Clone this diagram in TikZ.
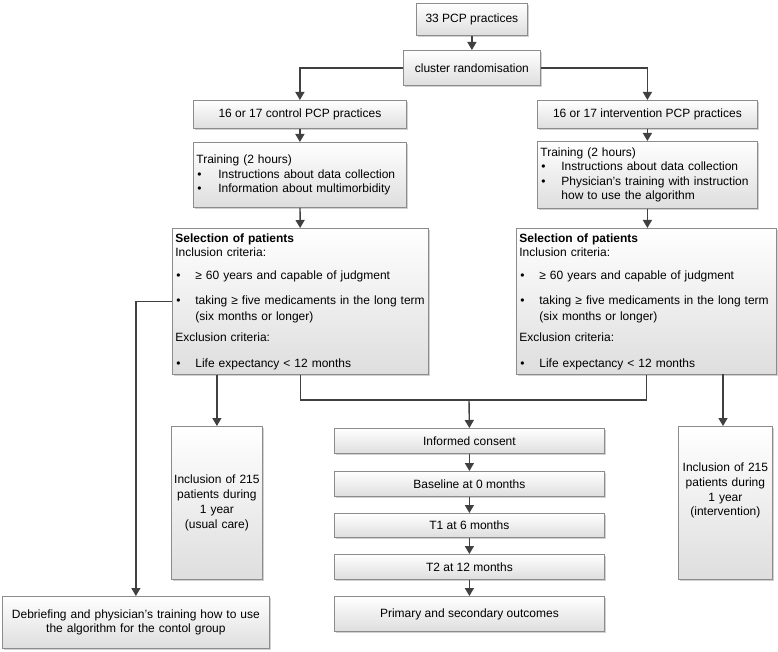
\documentclass[tikz,border=0pt]{standalone}
\usepackage{fontspec}
\setmainfont{Liberation Sans}
\usetikzlibrary{arrows.meta,shadows}
\definecolor{edgegray}{RGB}{140,140,140}
\definecolor{conngray}{RGB}{64,64,64}
\newcommand{\bul}[1]{\makebox[#1][l]{\hspace{1pt}\textbullet}}
\hyphenpenalty=10000
\begin{document}
\begin{tikzpicture}[x=1pt, y=-1pt,
  font=\fontsize{12}{14.5}\selectfont,
  box/.style={draw=edgegray, line width=0.8pt, top color=white, bottom color=black!13,
    drop shadow={shadow xshift=1.2pt, shadow yshift=-1.2pt, fill=black, opacity=0.18},
    inner sep=0pt, inner xsep=3pt, anchor=north west},
  ln/.style={draw=conngray, line width=1.4pt},
  arr/.style={ln, -{Triangle[width=9pt,length=8pt]}}]
\fill[white] (0,0) rectangle (778,652);
\useasboundingbox (0,0) rectangle (778,652);

\node[box, minimum width=111, minimum height=32] (pcp) at (416,3) {33 PCP practices};
\node[box, minimum width=137, minimum height=35] (cluster) at (403,50) {cluster randomisation};
\node[box, minimum width=213, minimum height=28] (ctrl) at (193,100) {16 or 17 control PCP practices};
\node[box, minimum width=220, minimum height=28] (intv) at (537,100) {16 or 17 intervention PCP practices};

\node[box, minimum width=213, minimum height=65, text width=207, align=left] (trainL) at (193,142)
 {Training (2 hours)\\
  \bul{22pt}Instructions about data collection\\
  \bul{22pt}Information about multimorbidity};
\node[box, minimum width=220, minimum height=67, text width=214, align=left] (trainR) at (537,141)
 {Training (2 hours)\\
  \bul{21pt}Instructions about data collection\\
  \bul{21pt}Physician’s training with instruction\\
  \hspace*{21pt}how to use the algorithm};

\node[box, minimum width=256, minimum height=146, text width=250, align=left] (selL) at (172,228)
 {\textbf{Selection of patients}\\
  Inclusion criteria:\\[8pt]
  \bul{20pt}≥ 60 years and capable of judgment\\[11pt]
  \bul{20pt}taking ≥ five medicaments in the long term\\[1pt]
  \hspace*{20pt}(six months or longer)\\[7pt]
  Exclusion criteria:\\[11pt]
  \bul{20pt}Life expectancy < 12 months};
\node[box, minimum width=260, minimum height=146, text width=254, align=left] (selR) at (516,228)
 {\textbf{Selection of patients}\\
  Inclusion criteria:\\[8pt]
  \bul{20pt}≥ 60 years and capable of judgment\\[11pt]
  \bul{20pt}taking ≥ five medicaments in the long term\\[1pt]
  \hspace*{20pt}(six months or longer)\\[7pt]
  Exclusion criteria:\\[11pt]
  \bul{20pt}Life expectancy < 12 months};

\node[box, inner xsep=0pt, minimum width=91, minimum height=153, text width=91, align=center, font=\fontsize{12}{15}\selectfont] (inclL) at (171,426)
 {Inclusion of 215\\patients during\\1 year\\(usual care)};
\node[box, inner xsep=0pt, minimum width=94, minimum height=153, text width=94, align=center, font=\fontsize{12}{14.7}\selectfont] (inclR) at (678,426)
 {Inclusion of 215\\patients during\\1 year\\(intervention)\\[12pt]\mbox{}};

\node[box, minimum width=270, minimum height=25] (consent) at (334,428) {Informed consent};
\node[box, minimum width=270, minimum height=25] (base) at (334,471) {Baseline at 0 months};
\node[box, minimum width=270, minimum height=24] (t1) at (334,513) {T1 at 6 months};
\node[box, minimum width=270, minimum height=25] (t2) at (334,554) {T2 at 12 months};
\node[box, minimum width=270, minimum height=35] (prim) at (334,596) {Primary and secondary outcomes};

\node[box, minimum width=267, minimum height=52, text width=261, align=center] (debrief) at (2,596)
 {Debriefing and physician’s training how to use\\the algorithm for the contol group};

\coordinate (j) at (469,400);

\draw[arr] (pcp) -- (cluster);
\draw[arr] (cluster.west) -| (ctrl.north);
\draw[arr] (cluster.east) -| (intv.north);
\draw[arr] (ctrl) -- (trainL);
\draw[arr] (intv) -- (trainR);
\draw[arr] (trainL) -- (selL);
\draw[arr] (trainR.south) -- (selR.north -| trainR.south);
\draw[arr] (inclL.north |- selL.south) -- (inclL.north);
\draw[arr] (723,374) coordinate (sr) -- (sr |- inclR.north);
\draw[ln] (selL.south) |- (j) -| (selR.south);
\draw[arr] (j) -- (consent.north);
\draw[arr] (consent) -- (base);
\draw[arr] (base) -- (t1);
\draw[arr] (t1) -- (t2);
\draw[arr] (t2) -- (prim);
\draw[arr] (selL.west) -| (debrief.north);
\end{tikzpicture}
\end{document}
